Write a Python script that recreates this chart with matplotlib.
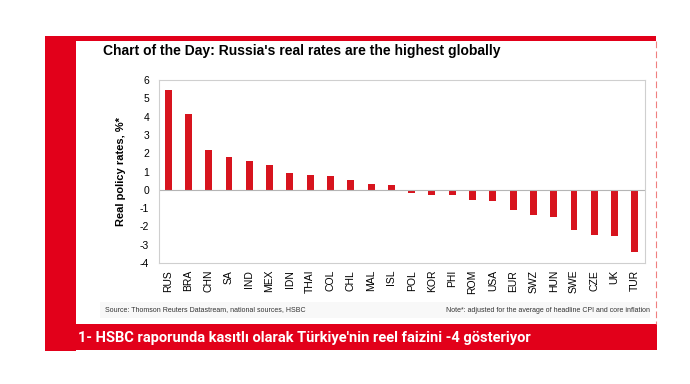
import matplotlib.pyplot as plt
from matplotlib.patches import Rectangle
from matplotlib.lines import Line2D

# data
countries = ['RUS', 'BRA', 'CHN', 'SA', 'IND', 'MEX', 'IDN', 'THAI', 'COL', 'CHL',
             'MAL', 'ISL', 'POL', 'KOR', 'PHI', 'ROM', 'USA', 'EUR', 'SWZ', 'HUN',
             'SWE', 'CZE', 'UK', 'TUR']
real_rates = [5.45, 4.15, 2.2, 1.8, 1.55, 1.38, 0.92, 0.8, 0.75, 0.53,
              0.3, 0.25, -0.2, -0.28, -0.28, -0.58, -0.62, -1.08, -1.38, -1.48,
              -2.22, -2.45, -2.5, -3.4]
yticks = [6, 5, 4, 3, 2, 1, 0, -1, -2, -3, -4]

title = "Chart of the Day: Russia's real rates are the highest globally"
ylabel = 'Real policy rates, %*'
source = 'Source: Thomson Reuters Datastream, national sources, HSBC'
note = 'Note*: adjusted for the average of headline CPI and core inflation'
caption = "1- HSBC raporunda kasıtlı olarak Türkiye'nin reel faizini -4 gösteriyor"

RED = '#e2001a'
W, H = 690, 384

plt.rcParams['font.family'] = ['Liberation Sans', 'DejaVu Sans']

fig = plt.figure(figsize=(W / 100, H / 100), dpi=100)
fig.patch.set_facecolor('white')


def fx(x):
    return x / W


def fy(y):
    return 1 - y / H


def px_rect(x0, y0, x1, y1, **kw):
    fig.add_artist(Rectangle((fx(x0), fy(y1)), fx(x1) - fx(x0), fy(y0) - fy(y1),
                             transform=fig.transFigure, **kw))


# red newspaper frame
px_rect(45, 36, 656, 41, color=RED, lw=0)
px_rect(45, 36, 76, 351, color=RED, lw=0)
px_rect(46, 324, 657, 350, color=RED, lw=0)
fig.add_artist(Line2D([fx(656), fx(656)], [fy(41), fy(324)], transform=fig.transFigure,
                      color='#f08080', lw=0.8, ls=(0, (6, 3))))
# faint grey band behind the source line
px_rect(100, 302, 650, 318, color='#f8f8f8', lw=0)

ax = fig.add_axes([fx(159), fy(263), fx(645) - fx(159), fy(80) - fy(263)])
ax.bar(range(len(countries)), real_rates, width=0.34, color='#d7141e')
ax.axhline(0, color='#b5b5b5', lw=0.8)
ax.set_xlim(-0.45, len(countries) - 0.5)
ax.set_ylim(-4, 6)
ax.set_yticks(yticks)
ax.set_yticklabels([str(t) for t in yticks], fontsize=7.5)
ax.set_xticks(range(len(countries)))
ax.set_xticklabels(countries, rotation=90, fontsize=7.5)
ax.tick_params(length=0)
ax.tick_params(axis='y', pad=7)
ax.tick_params(axis='x', pad=5)
for s in ax.spines.values():
    s.set_color('#cfcfcf')
    s.set_linewidth(0.8)
ax.set_ylabel(ylabel, fontsize=8, fontweight='bold', labelpad=10)

fig.text(fx(103), fy(51), title, fontsize=10, fontweight='bold', va='center', ha='left')
fig.text(fx(105), fy(310), source, fontsize=5, va='center', ha='left', color='#333333')
fig.text(fx(650), fy(310), note, fontsize=5, va='center', ha='right', color='#333333')
fig.text(fx(78), fy(338), caption, fontsize=10.5, fontweight='bold', va='center', ha='left',
         color='white', family=['Roboto', 'DejaVu Sans'])

fig.savefig('out.png', dpi=100, facecolor='white')
